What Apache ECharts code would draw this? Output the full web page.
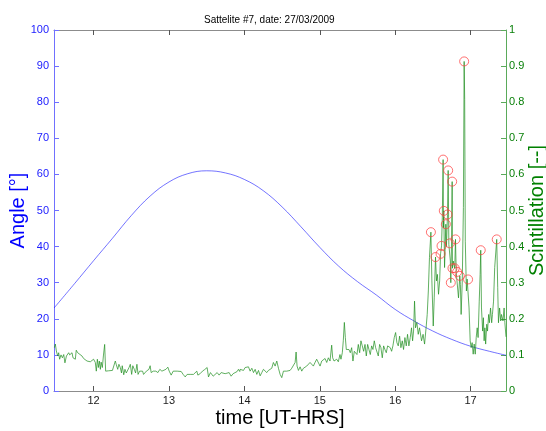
<!DOCTYPE html>
<html>
<head>
<meta charset="utf-8">
<script src="https://cdn.jsdelivr.net/npm/echarts@6/dist/echarts.min.js"></script>
<style>html,body{margin:0;padding:0;background:#fff}#chart{width:546px;height:431px}</style>
</head>
<body>
<div id="chart"></div>
<script>
var titleText = 'Sattelite #7, date: 27/03/2009';
var xTicks = [12, 13, 14, 15, 16, 17];

// Elevation angle [deg] (left axis)
var angleTime = [11.476, 11.75, 12.0, 12.25, 12.5, 12.75, 13.0, 13.25, 13.5, 13.75, 14.0, 14.25, 14.5, 14.75, 15.0, 15.25, 15.5, 15.75, 16.0, 16.25, 16.5, 16.75, 17.0, 17.25, 17.47];
var angleValue = [23.0, 29.8, 36.1, 42.3, 48.6, 54.0, 57.9, 60.2, 61.0, 60.4, 58.6, 55.5, 51.0, 45.5, 39.8, 34.6, 30.3, 26.6, 22.6, 19.4, 16.6, 14.3, 12.4, 11.0, 9.9];

// Scintillation index (right axis), [time, value]
var scintillation = [
[11.48,0.12],[11.493,0.13],[11.506,0.111],[11.524,0.097],[11.537,0.106],[11.55,0.088],[11.568,0.10],[11.586,0.092],[11.604,0.101],[11.62,0.078],
[11.64,0.097],[11.657,0.092],[11.67,0.106],[11.683,0.10],[11.70,0.101],[11.714,0.106],[11.727,0.092],[11.745,0.097],[11.758,0.088],[11.77,0.113],
[11.789,0.106],[11.815,0.101],[11.846,0.097],[11.868,0.09],[11.89,0.088],[11.913,0.083],[11.935,0.078],[11.957,0.081],[11.98,0.076],[12.0,0.088],
[12.023,0.079],[12.036,0.055],[12.05,0.088],[12.063,0.065],[12.076,0.083],[12.09,0.06],[12.10,0.08],[12.116,0.065],[12.13,0.097],[12.147,0.129],
[12.16,0.055],[12.18,0.058],[12.2,0.056],[12.22,0.059],[12.25,0.057],[12.27,0.06],[12.288,0.083],[12.30,0.074],[12.32,0.06],[12.336,0.074],
[12.354,0.065],[12.37,0.05],[12.38,0.07],[12.40,0.045],[12.416,0.06],[12.434,0.05],[12.45,0.05],[12.47,0.065],[12.487,0.074],[12.505,0.046],
[12.52,0.07],[12.54,0.06],[12.557,0.05],[12.575,0.074],[12.59,0.046],[12.61,0.055],[12.628,0.05],[12.65,0.055],[12.663,0.046],[12.68,0.05],
[12.70,0.055],[12.716,0.05],[12.734,0.06],[12.75,0.07],[12.764,0.051],[12.791,0.055],[12.809,0.051],[12.826,0.055],[12.853,0.051],[12.879,0.06],
[12.906,0.055],[12.932,0.051],[12.959,0.06],[12.985,0.066],[13.003,0.055],[13.029,0.044],[13.056,0.055],[13.082,0.051],[13.109,0.055],[13.135,0.051],
[13.162,0.054],[13.188,0.046],[13.215,0.039],[13.241,0.046],[13.281,0.046],[13.325,0.046],[13.347,0.051],[13.369,0.055],[13.383,0.044],[13.413,0.048],
[13.444,0.055],[13.471,0.059],[13.489,0.054],[13.506,0.065],[13.524,0.039],[13.55,0.051],[13.568,0.055],[13.586,0.041],[13.612,0.046],[13.639,0.051],
[13.665,0.044],[13.692,0.051],[13.718,0.046],[13.745,0.048],[13.771,0.044],[13.798,0.051],[13.824,0.041],[13.851,0.048],[13.877,0.044],[13.904,0.054],
[13.921,0.06],[13.939,0.054],[13.944,0.06],[13.97,0.065],[13.988,0.057],[14.01,0.065],[14.032,0.06],[14.054,0.067],[14.076,0.055],[14.099,0.063],
[14.121,0.051],[14.143,0.06],[14.165,0.046],[14.187,0.057],[14.209,0.042],[14.231,0.051],[14.253,0.06],[14.275,0.055],[14.297,0.051],[14.319,0.057],
[14.341,0.055],[14.363,0.063],[14.385,0.079],[14.408,0.069],[14.43,0.083],[14.452,0.063],[14.474,0.046],[14.496,0.037],[14.518,0.055],[14.54,0.057],
[14.562,0.055],[14.584,0.06],[14.606,0.057],[14.628,0.063],[14.65,0.06],[14.673,0.079],[14.686,0.108],[14.699,0.069],[14.717,0.057],[14.739,0.067],
[14.761,0.055],[14.783,0.063],[14.805,0.06],[14.827,0.069],[14.849,0.065],[14.871,0.079],[14.893,0.074],[14.915,0.069],[14.937,0.079],[14.959,0.088],
[14.982,0.083],[15.004,0.069],[15.026,0.083],[15.048,0.079],[15.07,0.09],[15.092,0.079],[15.114,0.092],[15.136,0.083],[15.158,0.127],[15.171,0.092],
[15.189,0.083],[15.202,0.083],[15.224,0.088],[15.246,0.081],[15.268,0.101],[15.281,0.088],[15.299,0.106],[15.312,0.139],[15.326,0.19],[15.339,0.148],
[15.352,0.115],[15.37,0.11],[15.387,0.115],[15.405,0.106],[15.423,0.12],[15.44,0.083],[15.458,0.11],[15.476,0.115],[15.493,0.101],[15.511,0.129],
[15.529,0.106],[15.546,0.139],[15.564,0.125],[15.582,0.11],[15.6,0.129],[15.617,0.097],[15.635,0.129],[15.652,0.115],[15.67,0.101],[15.688,0.125],
[15.705,0.115],[15.723,0.139],[15.741,0.12],[15.758,0.125],[15.776,0.097],[15.794,0.129],[15.811,0.12],[15.829,0.092],[15.847,0.125],[15.864,0.115],
[15.882,0.106],[15.9,0.125],[15.917,0.129],[15.935,0.12],[15.953,0.11],[15.97,0.125],[15.988,0.148],[16.006,0.162],[16.023,0.134],[16.041,0.125],
[16.059,0.152],[16.076,0.12],[16.094,0.139],[16.111,0.115],[16.129,0.148],[16.147,0.125],[16.164,0.157],[16.182,0.125],[16.2,0.148],[16.217,0.175],
[16.231,0.139],[16.244,0.166],[16.257,0.249],[16.27,0.175],[16.288,0.19],[16.306,0.157],[16.323,0.175],[16.35,0.139],[16.37,0.157],[16.39,0.13],
[16.41,0.175],[16.425,0.212],[16.44,0.277],[16.455,0.37],[16.474,0.44],[16.487,0.305],[16.505,0.18],[16.518,0.258],[16.535,0.371],[16.548,0.305],
[16.56,0.323],[16.575,0.268],[16.59,0.305],[16.602,0.38],[16.615,0.402],[16.625,0.48],[16.636,0.641],[16.641,0.452],[16.645,0.499],[16.655,0.342],
[16.672,0.462],[16.68,0.40],[16.694,0.489],[16.703,0.611],[16.712,0.406],[16.725,0.409],[16.732,0.36],[16.738,0.30],[16.748,0.415],[16.756,0.58],
[16.76,0.34],[16.77,0.36],[16.79,0.34],[16.80,0.42],[16.81,0.328],[16.822,0.33],[16.84,0.258],[16.857,0.319],[16.865,0.295],[16.875,0.212],
[16.89,0.305],[16.905,0.508],[16.915,0.913],[16.922,0.808],[16.93,0.415],[16.945,0.277],[16.955,0.31],[16.967,0.309],[16.98,0.23],[16.995,0.139],
[17.008,0.12],[17.021,0.134],[17.035,0.102],[17.048,0.13],[17.062,0.102],[17.075,0.148],[17.088,0.175],[17.10,0.148],[17.115,0.249],[17.127,0.323],
[17.135,0.39],[17.145,0.23],[17.16,0.166],[17.17,0.203],[17.18,0.139],[17.19,0.175],[17.20,0.13],[17.215,0.185],[17.225,0.166],[17.24,0.212],
[17.25,0.189],[17.265,0.23],[17.28,0.189],[17.29,0.212],[17.305,0.249],[17.32,0.342],[17.347,0.42],[17.36,0.286],[17.37,0.189],[17.385,0.23],
[17.40,0.194],[17.41,0.212],[17.43,0.194],[17.445,0.23],[17.455,0.189],[17.47,0.15]
];

// Marked scintillation peaks (red circles)
var peakTime = [16.474, 16.535, 16.602, 16.615, 16.636, 16.645, 16.672, 16.694, 16.703, 16.725, 16.738, 16.756, 16.76, 16.79, 16.80, 16.822, 16.857, 16.915, 16.967, 17.135, 17.347];
var peakValue = [0.44, 0.371, 0.38, 0.402, 0.641, 0.499, 0.462, 0.489, 0.611, 0.409, 0.30, 0.58, 0.34, 0.34, 0.42, 0.33, 0.319, 0.913, 0.309, 0.39, 0.42];

var angleData = angleTime.map(function (t, i) { return [t, angleValue[i]]; });
var peakData = peakTime.map(function (t, i) { return [t, peakValue[i]]; });

var chart = echarts.init(document.getElementById('chart'), null, {renderer: 'canvas'});
var font = 'Liberation Sans, Arial, Helvetica, sans-serif';
var xMin = 11.475, xMax = 17.47;
chart.setOption({
  animation: false,
  textStyle: {fontFamily: font},
  title: {
    text: titleText, left: 199, top: 10,
    textStyle: {fontSize: 10, fontWeight: 'normal', color: '#000', fontFamily: font}
  },
  grid: {left: 54, right: 40, top: 30, bottom: 40, containLabel: false, outerBoundsMode: 'none'},
  xAxis: [{
    type: 'value', min: xMin, max: xMax, position: 'bottom',
    axisLine: {show: true, onZero: false, lineStyle: {color: '#8c8c8c', width: 1}},
    axisTick: {show: true, inside: true, length: 5, customValues: xTicks, lineStyle: {color: '#555'}},
    axisLabel: {customValues: xTicks, fontSize: 11, color: '#1a1a1a', margin: 4},
    splitLine: {show: false},
    name: 'time [UT-HRS]', nameLocation: 'middle', nameGap: 17, nameMoveOverlap: false,
    nameTextStyle: {fontSize: 20, color: '#000', fontFamily: font}
  }, {
    type: 'value', min: xMin, max: xMax, position: 'top',
    axisLine: {show: true, onZero: false, lineStyle: {color: '#8c8c8c', width: 1}},
    axisTick: {show: true, inside: true, length: 5, customValues: xTicks, lineStyle: {color: '#555'}},
    axisLabel: {show: false},
    splitLine: {show: false}
  }],
  yAxis: [{
    type: 'value', min: 0, max: 100, interval: 10, position: 'left',
    axisLine: {show: true, lineStyle: {color: '#7070ff', width: 1}},
    axisTick: {show: true, inside: true, length: 5, lineStyle: {color: '#7070ff'}},
    axisLabel: {fontSize: 11, color: '#1a1aff', margin: 5},
    splitLine: {show: false},
    name: 'Angle [°]', nameLocation: 'middle', nameGap: 26, nameMoveOverlap: false,
    nameTextStyle: {fontSize: 20, color: '#0000ff', fontFamily: font}
  }, {
    type: 'value', min: 0, max: 1, interval: 0.1, position: 'right',
    axisLine: {show: true, lineStyle: {color: '#5aaa5a', width: 1}},
    axisTick: {show: true, inside: true, length: 5, lineStyle: {color: '#5aaa5a'}},
    axisLabel: {fontSize: 11, color: '#0a800a', margin: 3},
    splitLine: {show: false},
    name: 'Scintillation [--]', nameLocation: 'middle', nameGap: 21, nameMoveOverlap: false,
    nameTextStyle: {fontSize: 20, color: '#008000', fontFamily: font}
  }],
  series: [{
    name: 'Angle', type: 'line', xAxisIndex: 0, yAxisIndex: 0,
    data: angleData, smooth: 0.4, showSymbol: false,
    lineStyle: {color: '#0000ff', width: 1, opacity: 0.55}
  }, {
    name: 'Scintillation', type: 'line', xAxisIndex: 0, yAxisIndex: 1,
    data: scintillation, showSymbol: false,
    lineStyle: {color: '#1f8f1f', width: 1, opacity: 0.7}
  }, {
    name: 'Peaks', type: 'scatter', xAxisIndex: 0, yAxisIndex: 1, z: 5,
    data: peakData, symbol: 'circle', symbolSize: 9,
    itemStyle: {color: 'rgba(0,0,0,0)', borderColor: '#ff4040', borderWidth: 1, opacity: 0.75}
  }]
});
</script>
</body>
</html>
